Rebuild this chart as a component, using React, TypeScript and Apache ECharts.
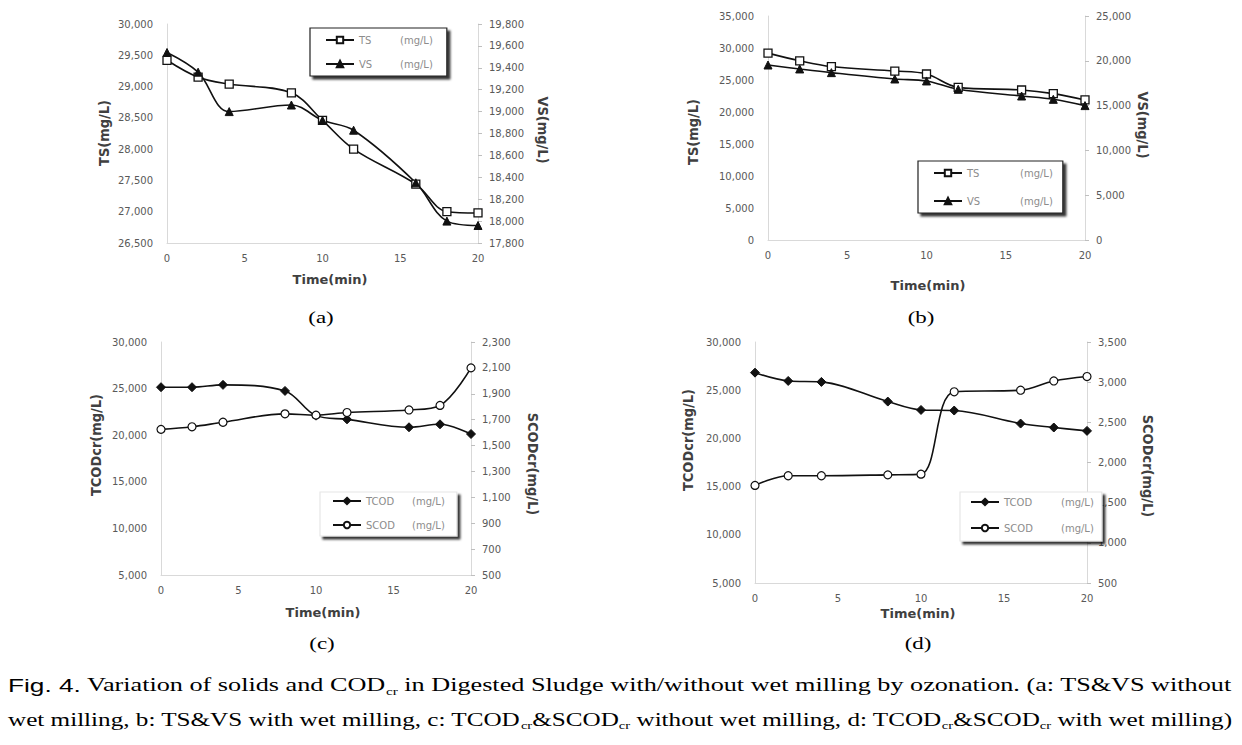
import React, { useEffect, useRef } from 'react';
import * as echarts from 'echarts';

// ---------- data ----------
const times = [0, 2, 4, 8, 10, 12, 16, 18, 20];
const tsA = [29420, 29150, 29040, 28900, 28460, 28000, 27440, 27000, 26980];
const vsA = [19540, 19360, 19000, 19060, 18920, 18830, 18350, 18000, 17960];
const tsB = [29200, 28000, 27100, 26400, 25940, 23850, 23440, 22870, 21880];
const vsB = [19530, 19090, 18680, 17970, 17750, 16820, 16070, 15700, 15000];
const tcodC = [25150, 25150, 25400, 24750, 22100, 21700, 20850, 21170, 20130];
const scodC = [1625, 1645, 1680, 1745, 1735, 1755, 1775, 1810, 2100];
const tcodD = [26820, 25960, 25860, 23820, 22950, 22890, 21540, 21130, 20780];
const scodD = [1715, 1835, 1835, 1846, 1855, 2880, 2900, 3015, 3070];
const scodCTicks = [500, 700, 900, 1100, 1300, 1500, 1700, 1900, 2100, 2300];

const xTitle = 'Time(min)';
const axisTitles = ['TS(mg/L)', 'VS(mg/L)', 'TCODcr(mg/L)', 'SCODcr(mg/L)'];
const subLabels = ['(a)', '(b)', '(c)', '(d)'];
const captionLine1 =
  '{f|Fig. 4.}{t| Variation of solids and COD}{s|cr}{t| in Digested Sludge with/without wet milling by ozonation. (a: TS&VS without}';
const captionLine2 =
  '{t|wet milling, b: TS&VS with wet milling, c: TCOD}{s|cr}{t|&SCOD}{s|cr}{t| without wet milling, d: TCOD}{s|cr}{t|&SCOD}{s|cr}{t| with wet milling)}';

const fmt = (v: number) => v.toLocaleString('en-US');
const pts = (arr: number[]) => times.map((t, i) => [t, arr[i]]);

export default function App() {
  const ref = useRef<HTMLDivElement>(null);

  useEffect(() => {
    if (!ref.current) return;
    const chart = echarts.init(ref.current, undefined, { renderer: 'svg' });

    const sans = 'DejaVu Sans, Verdana, sans-serif';
    const tickFont = { fontSize: 10, color: '#595959', fontFamily: sans };
    const axisLineStyle = { show: true, lineStyle: { color: '#d9d9d9', width: 1 } };

    const xAx = (gridIndex: number) => ({
      type: 'value', gridIndex, min: 0, max: 20, interval: 5,
      axisLine: axisLineStyle, axisTick: { show: false }, splitLine: { show: false },
      axisLabel: { ...tickFont, margin: 10 },
    });
    const yAx = (gridIndex: number, position: string, min: number, max: number, interval?: number, custom?: number[]) => ({
      type: 'value', gridIndex, position, min, max, interval,
      axisLine: axisLineStyle,
      axisTick: { show: position === 'right', length: 4, lineStyle: { color: '#bfbfbf' }, ...(custom ? { customValues: custom } : {}) },
      axisLabel: { ...tickFont, margin: position === 'right' ? 11 : 14, formatter: fmt, ...(custom ? { customValues: custom } : {}) },
      splitLine: { show: false },
    });

    const lineCommon = { type: 'line', smooth: 0.35, lineStyle: { color: '#111', width: 1.6 }, z: 3 };
    const openSq = { symbol: 'rect', symbolSize: 8, itemStyle: { color: '#fff', borderColor: '#111', borderWidth: 1.3 } };
    const filledTri = { symbol: 'triangle', symbolSize: 8, itemStyle: { color: '#111', borderColor: '#111', borderWidth: 1 } };
    const filledDia = { symbol: 'diamond', symbolSize: 9, itemStyle: { color: '#111', borderColor: '#111', borderWidth: 1 } };
    const openCir = { symbol: 'circle', symbolSize: 8, itemStyle: { color: '#fff', borderColor: '#111', borderWidth: 1.2 } };

    const legendText = (w: number) => ({
      rich: {
        n: { width: w, fontSize: 10, lineHeight: 14, color: '#8c8c8c', fontFamily: sans },
        u: { fontSize: 10, lineHeight: 14, color: '#8c8c8c', fontFamily: sans },
      },
    });
    const legendBase = {
      orient: 'vertical', itemWidth: 28, itemHeight: 8, selectedMode: false,
      backgroundColor: '#fff', borderWidth: 1.2,
      shadowColor: 'rgba(0,0,0,0.8)', shadowBlur: 2, shadowOffsetX: 3, shadowOffsetY: 3,
      formatter: (n: string) => `{n|${n}}{u|(mg/L)}`,
    };

    // caption measuring
    const capRich = {
      f: { fontFamily: 'Liberation Sans, Arial, sans-serif', fontSize: 19, lineHeight: 24, fill: '#000' },
      t: { fontFamily: 'Liberation Serif, Times New Roman, serif', fontSize: 19, lineHeight: 24, fill: '#000' },
      s: { fontFamily: 'Liberation Serif, Times New Roman, serif', fontSize: 11, lineHeight: 11, verticalAlign: 'bottom', fill: '#000' },
    };
    const measure = (text: string) => {
      const t = new (echarts.graphic as any).Text({ style: { text, rich: capRich } });
      return t.getBoundingRect().width;
    };
    const capW = 1224;
    const s1 = capW / measure(captionLine1);
    const s2 = capW / measure(captionLine2);

    const titleStyle = { fontSize: 13, fontWeight: 'bold', fill: '#404040', fontFamily: sans, align: 'center', verticalAlign: 'middle' };
    const vTitle = (text: string, x: number, y: number, left: boolean) => ({
      type: 'text', x, y, rotation: left ? Math.PI / 2 : -Math.PI / 2, scaleY: 1.1,
      style: { ...titleStyle, text },
    });
    const hTitle = (x: number, y: number) => ({
      type: 'text', x, y, style: { ...titleStyle, text: xTitle },
    });
    const sub = (text: string, x: number, y: number) => ({
      type: 'text', x, y, scaleX: 1.35,
      style: { text, fontSize: 17, fill: '#000', fontFamily: 'Liberation Serif, Times New Roman, serif', align: 'center', verticalAlign: 'middle' },
    });

    chart.setOption({
      animation: false,
      backgroundColor: '#fff',
      grid: [
        { left: 167, top: 24, width: 311, height: 219 },
        { left: 768, top: 16, width: 317, height: 224 },
        { left: 161, top: 342, width: 310, height: 233 },
        { left: 755, top: 342, width: 332, height: 241 },
      ],
      xAxis: [xAx(0), xAx(1), xAx(2), xAx(3)],
      yAxis: [
        yAx(0, 'left', 26500, 30000, 500),
        yAx(0, 'right', 17800, 19800, 200),
        yAx(1, 'left', 0, 35000, 5000),
        yAx(1, 'right', 0, 25000, 5000),
        yAx(2, 'left', 5000, 30000, 5000),
        yAx(2, 'right', 500, 2300, undefined, scodCTicks),
        yAx(3, 'left', 5000, 30000, 5000),
        yAx(3, 'right', 500, 3500, 500),
      ],
      legend: [
        { ...legendBase, left: 310, top: 28, padding: [7, 14, 7, 15], itemGap: 14, borderColor: '#222', data: ['TS', 'VS'], textStyle: legendText(41) },
        { ...legendBase, left: 918, top: 161, padding: [7, 10, 7, 15], itemGap: 18, borderColor: '#222', data: ['TS', 'VS'], textStyle: legendText(53) },
        { ...legendBase, left: 320, top: 492, padding: [4, 12, 6, 12], itemGap: 14, borderColor: '#e6e6e6', data: ['TCOD', 'SCOD'], textStyle: legendText(46) },
        { ...legendBase, left: 960, top: 492, padding: [5, 8, 8, 10], itemGap: 16, borderColor: '#e6e6e6', data: ['TCOD', 'SCOD'], textStyle: legendText(57) },
      ],
      series: [
        { ...lineCommon, ...openSq, name: 'TS', xAxisIndex: 0, yAxisIndex: 0, data: pts(tsA) },
        { ...lineCommon, ...filledTri, name: 'VS', xAxisIndex: 0, yAxisIndex: 1, data: pts(vsA) },
        { ...lineCommon, ...openSq, name: 'TS', xAxisIndex: 1, yAxisIndex: 2, data: pts(tsB) },
        { ...lineCommon, ...filledTri, name: 'VS', xAxisIndex: 1, yAxisIndex: 3, data: pts(vsB) },
        { ...lineCommon, ...filledDia, name: 'TCOD', xAxisIndex: 2, yAxisIndex: 4, data: pts(tcodC) },
        { ...lineCommon, ...openCir, name: 'SCOD', xAxisIndex: 2, yAxisIndex: 5, data: pts(scodC) },
        { ...lineCommon, ...filledDia, name: 'TCOD', xAxisIndex: 3, yAxisIndex: 6, data: pts(tcodD) },
        { ...lineCommon, ...openCir, name: 'SCOD', xAxisIndex: 3, yAxisIndex: 7, data: pts(scodD) },
      ],
      graphic: [
        vTitle(axisTitles[0], 104, 133, true),
        vTitle(axisTitles[1], 543, 130, false),
        vTitle(axisTitles[0], 693, 132, true),
        vTitle(axisTitles[1], 1143, 125, false),
        vTitle(axisTitles[2], 96, 445, true),
        vTitle(axisTitles[3], 533, 464, false),
        vTitle(axisTitles[2], 688, 440, true),
        vTitle(axisTitles[3], 1148, 466, false),
        hTitle(330, 279),
        hTitle(928, 285),
        hTitle(323, 612),
        hTitle(918, 613),
        sub(subLabels[0], 321, 317),
        sub(subLabels[1], 921, 317),
        sub(subLabels[2], 322, 643),
        sub(subLabels[3], 918, 643),
        { type: 'text', x: 8, y: 685, scaleX: s1, style: { text: captionLine1, rich: capRich, verticalAlign: 'middle', align: 'left' } },
        { type: 'text', x: 8, y: 719.5, scaleX: s2, style: { text: captionLine2, rich: capRich, verticalAlign: 'middle', align: 'left' } },
      ],
    });

    return () => chart.dispose();
  }, []);

  return (
    <div
      ref={ref}
      style={{ position: 'fixed', left: 0, top: 0, width: 1242, height: 745, background: '#fff' }}
    />
  );
}
